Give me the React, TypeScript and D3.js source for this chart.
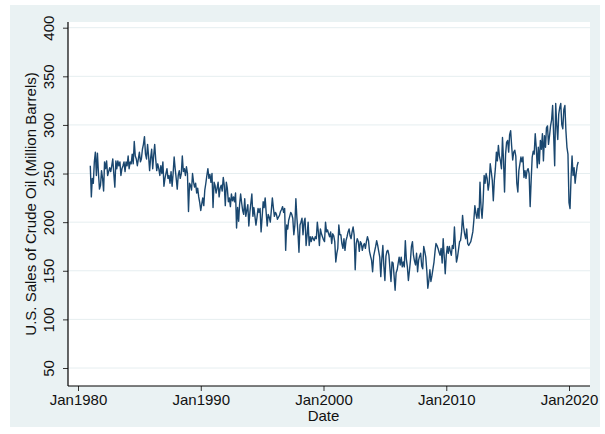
import { useEffect, useRef } from 'react'
import * as d3 from 'd3'

// monthly U.S. crude oil sales, million barrels, starting Jan 1981
const sales1980s = [
  258, 226, 245, 240, 262, 272, 248, 271, 250, 234, 238, 253,
  245, 232, 262, 255, 263, 248, 252, 256, 252, 258, 265, 250,
  236, 263, 255, 263, 258, 262, 248, 255, 258, 262, 252, 262,
  258, 268, 255, 262, 260, 270, 260, 283, 268, 265, 258, 265,
  272, 262, 265, 275, 280, 288, 270, 265, 280, 268, 253, 266,
  275, 255, 268, 280, 265, 253, 260, 255, 248, 258, 250, 262,
  237, 245, 250, 255, 245, 248, 240, 252, 237, 250, 267, 255,
  245, 234, 248, 253, 245, 250, 268, 252, 255, 248, 257, 250,
  211, 240, 238, 233, 250, 241, 236, 240, 230, 235, 226, 220,
]
const sales1990s = [
  212, 219, 225, 217, 233, 240, 248, 255, 245, 249, 241, 250,
  215, 241, 238, 230, 235, 241, 226, 235, 238, 232, 246, 238,
  217, 241, 235, 221, 225, 216, 229, 222, 226, 221, 230, 194,
  215, 201, 218, 229, 220, 212, 208, 224, 206, 212, 218, 196,
  210, 220, 229, 206, 215, 206, 197, 205, 214, 210, 214, 190,
  205, 221, 215, 225, 210, 196, 208, 205, 200, 212, 225, 215,
  206, 210, 208, 203, 205, 207, 211, 213, 216, 210, 214, 171,
  197, 193, 202, 206, 210, 208, 204, 187, 197, 224, 204, 190,
  169, 197, 200, 204, 187, 200, 204, 176, 187, 200, 176, 185,
  180, 185, 183, 181, 185, 183, 200, 190, 176, 193, 188, 185,
]
const sales2000s = [
  182, 180, 200, 190, 192, 188, 185, 190, 178, 188, 186, 180,
  159, 168, 173, 197, 187, 187, 178, 173, 183, 171, 181, 185,
  190, 193, 186, 183, 190, 195, 187, 151, 178, 183, 180, 170,
  180, 178, 171, 176, 178, 173, 180, 185, 181, 170, 165, 161,
  149, 165, 170, 175, 181, 176, 170, 164, 144, 162, 176, 155,
  140, 165, 170, 171, 166, 152, 139, 159, 158, 145, 130, 148,
  151, 158, 164, 156, 164, 154, 159, 154, 181, 162, 154, 140,
  150, 161, 175, 180, 166, 160, 156, 168, 149, 161, 165, 168,
  155, 152, 175, 170, 164, 150, 132, 140, 151, 139, 145, 152,
  159, 170, 178, 176, 173, 169, 166, 173, 158, 183, 165, 147,
]
const sales2010s = [
  166, 175, 168, 175, 170, 166, 176, 173, 195, 175, 159, 164,
  172, 180, 181, 190, 207, 195, 188, 183, 193, 178, 176, 178,
  180, 185, 190, 202, 217, 209, 204, 214, 204, 241, 215, 204,
  221, 248, 240, 250, 245, 233, 240, 260, 252, 243, 222, 243,
  255, 272, 263, 279, 268, 263, 255, 287, 263, 231, 270, 282,
  284, 272, 290, 294, 278, 264, 272, 274, 268, 240, 231, 253,
  260, 267, 262, 267, 246, 253, 245, 253, 255, 250, 216, 243,
  267, 273, 270, 291, 277, 256, 277, 260, 284, 275, 291, 263,
  289, 277, 297, 299, 280, 289, 299, 305, 320, 290, 258, 322,
  300, 285, 311, 318, 322, 300, 296, 316, 320, 294, 277, 270,
]
const sales2020 = [220, 214, 245, 268, 248, 256, 240, 250, 258, 262]

const yTicks = [50, 100, 150, 200, 250, 300, 350, 400]
const xTickYears = [1980, 1990, 2000, 2010, 2020]

const yTitle = 'U.S. Sales of Crude Oil (Million Barrels)'
const xTitle = 'Date'

interface Point { date: Date; value: number }

const FONT = '"Liberation Sans", Arial, Helvetica, sans-serif'

export default function App() {
  const ref = useRef<SVGSVGElement | null>(null)

  useEffect(() => {
    if (!ref.current) {return}
    const svg = d3.select(ref.current)
    svg.selectAll('*').remove()

    const width = 605
    const height = 434
    const plot = { left: 68, right: 590, top: 22, bottom: 386 }

    const values = [...sales1980s, ...sales1990s, ...sales2000s, ...sales2010s, ...sales2020]
    const data: Point[] = values.map((v, i) => ({ date: new Date(1981, i, 1), value: v }))

    const x = d3
      .scaleTime()
      .domain([new Date(1980, 0, 1), new Date(2020, 0, 1)])
      .range([78, 569])

    const y = d3.scaleLinear().domain([50, 400]).range([368, 27.7])

    svg.attr('width', width).attr('height', height)

    // graph region
    svg
      .append('rect')
      .attr('x', 10)
      .attr('y', 5)
      .attr('width', 590)
      .attr('height', 422)
      .attr('fill', '#eaf2f3')

    // plot region
    svg
      .append('rect')
      .attr('x', plot.left)
      .attr('y', plot.top)
      .attr('width', plot.right - plot.left)
      .attr('height', plot.bottom - plot.top)
      .attr('fill', '#ffffff')

    // gridlines
    svg
      .append('g')
      .selectAll('line')
      .data(yTicks)
      .join('line')
      .attr('x1', plot.left)
      .attr('x2', plot.right)
      .attr('y1', (d) => y(d))
      .attr('y2', (d) => y(d))
      .attr('stroke', '#e6eef0')
      .attr('stroke-width', 1)

    // y axis
    const yAxis = svg
      .append('g')
      .attr('transform', `translate(${plot.left},0)`)
      .call(d3.axisLeft(y).tickValues(yTicks).tickSize(5).tickSizeOuter(0).tickFormat(d3.format('d')))
    yAxis.select('.domain').remove()
    yAxis.selectAll('.tick line').attr('stroke', '#333')
    yAxis
      .selectAll('.tick text')
      .attr('transform', 'rotate(-90)')
      .attr('x', 0)
      .attr('y', -14)
      .attr('dy', 0)
      .attr('text-anchor', 'middle')
      .attr('fill', '#111')
      .style('font-family', FONT)
      .style('font-size', '15px')

    // x axis
    const xAxis = svg
      .append('g')
      .attr('transform', `translate(0,${plot.bottom})`)
      .call(
        d3
          .axisBottom(x)
          .tickValues(xTickYears.map((yr) => new Date(yr, 0, 1)))
          .tickSize(5)
          .tickSizeOuter(0)
          .tickFormat((d) => `Jan${(d as Date).getFullYear()}`),
      )
    xAxis.select('.domain').remove()
    xAxis.selectAll('.tick line').attr('stroke', '#333')
    xAxis
      .selectAll('.tick text')
      .attr('y', 19)
      .attr('dy', 0)
      .attr('fill', '#111')
      .style('font-family', FONT)
      .style('font-size', '15px')

    // axis lines
    svg
      .append('line')
      .attr('x1', plot.left)
      .attr('x2', plot.left)
      .attr('y1', plot.top)
      .attr('y2', plot.bottom)
      .attr('stroke', '#000')
      .attr('stroke-width', 1.2)
    svg
      .append('line')
      .attr('x1', plot.left)
      .attr('x2', plot.right)
      .attr('y1', plot.bottom)
      .attr('y2', plot.bottom)
      .attr('stroke', '#000')
      .attr('stroke-width', 1.2)

    // titles
    svg
      .append('text')
      .attr('transform', `translate(36,${(plot.top + plot.bottom) / 2}) rotate(-90)`)
      .attr('text-anchor', 'middle')
      .attr('fill', '#111')
      .style('font-family', FONT)
      .style('font-size', '15px')
      .text(yTitle)
    svg
      .append('text')
      .attr('x', x(new Date(2000, 0, 1)))
      .attr('y', 421)
      .attr('text-anchor', 'middle')
      .attr('fill', '#111')
      .style('font-family', FONT)
      .style('font-size', '15px')
      .text(xTitle)

    const line = d3
      .line<Point>()
      .x((d) => x(d.date))
      .y((d) => y(d.value))

    svg
      .append('path')
      .datum(data)
      .attr('fill', 'none')
      .attr('stroke', '#1a476f')
      .attr('stroke-width', 1.4)
      .attr('stroke-linejoin', 'round')
      .attr('d', line)
  }, [])

  return (
    <svg
      ref={ref}
      role="img"
      aria-label="U.S. crude oil sales line chart"
      style={{ position: 'absolute', left: 0, top: 0, display: 'block', background: '#fff' }}
    />
  )
}
